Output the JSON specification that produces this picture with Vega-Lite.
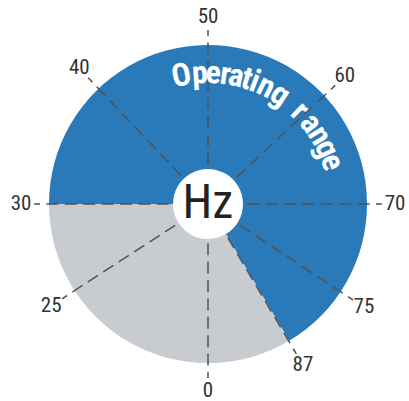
{
  "$schema": "https://vega.github.io/schema/vega-lite/v6.json",
  "width": 402,
  "height": 394,
  "autosize": {"type": "none"},
  "padding": {"left": 7, "top": 7, "right": 0, "bottom": 0},
  "background": "white",
  "config": {"view": {"stroke": null}},
  "datasets": {
    "sectors": [
      {"seg": "Operating", "start": -90, "end": 149.3},
      {"seg": "Off", "start": 149.3, "end": 270}
    ],
    "ticks": [
      {"label": "0", "deg": 180},
      {"label": "25", "deg": 237},
      {"label": "30", "deg": 270},
      {"label": "40", "deg": 316.5},
      {"label": "50", "deg": 0},
      {"label": "60", "deg": 47},
      {"label": "70", "deg": 90},
      {"label": "75", "deg": 123.5},
      {"label": "87", "deg": 149.5}
    ],
    "arcText": [
      {"ch": "O", "deg": -11.7},
      {"ch": "p", "deg": -3.6},
      {"ch": "e", "deg": 2.3},
      {"ch": "r", "deg": 7.7},
      {"ch": "a", "deg": 12.5},
      {"ch": "t", "deg": 17.3},
      {"ch": "i", "deg": 20.9},
      {"ch": "n", "deg": 26.4},
      {"ch": "g", "deg": 33.4},
      {"ch": "r", "deg": 44.6},
      {"ch": "a", "deg": 51.8},
      {"ch": "n", "deg": 58.4},
      {"ch": "g", "deg": 64.9},
      {"ch": "e", "deg": 71.3}
    ],
    "unit": [{"label": "Hz"}]
  },
  "layer": [
    {
      "data": {"name": "sectors"},
      "mark": {"type": "arc", "outerRadius": 159, "innerRadius": 35},
      "encoding": {
        "theta": {"field": "start", "type": "quantitative", "stack": null, "scale": {"domain": [0, 360], "range": [0, 6.283185307179586], "nice": false, "zero": false}},
        "theta2": {"field": "end"},
        "color": {"field": "seg", "type": "nominal", "scale": {"domain": ["Operating", "Off"], "range": ["#2a7ab9", "#c8cbd0"]}, "legend": null}
      }
    },
    {
      "data": {"name": "ticks"},
      "mark": {"type": "arc", "innerRadius": 36, "outerRadius": 174, "filled": false, "color": "#4f5356", "strokeWidth": 1.5, "strokeDash": [6, 12.4]},
      "encoding": {
        "theta": {"field": "deg", "type": "quantitative", "stack": null, "scale": {"domain": [0, 360], "range": [0, 6.283185307179586], "nice": false, "zero": false}},
        "theta2": {"field": "deg"}
      }
    },
    {
      "data": {"name": "ticks"},
      "mark": {"type": "text", "radius": 187, "fontSize": 21, "font": "'Roboto Condensed', 'Liberation Sans Narrow', 'DejaVu Sans Condensed', Roboto, sans-serif", "color": "#333333", "align": "center", "baseline": "middle"},
      "encoding": {
        "theta": {"field": "deg", "type": "quantitative", "stack": null, "scale": {"domain": [0, 360], "range": [0, 6.283185307179586], "nice": false, "zero": false}},
        "text": {"field": "label"}
      }
    },
    {
      "data": {"name": "arcText"},
      "mark": {"type": "text", "radius": 131, "fontSize": 32, "fontWeight": "bold", "font": "'Roboto Condensed', 'Liberation Sans Narrow', 'DejaVu Sans Condensed', Roboto, sans-serif", "color": "white", "align": "center", "baseline": "middle"},
      "encoding": {
        "theta": {"field": "deg", "type": "quantitative", "stack": null, "scale": {"domain": [0, 360], "range": [0, 6.283185307179586], "nice": false, "zero": false}},
        "angle": {"field": "deg", "type": "quantitative", "scale": null},
        "text": {"field": "ch"}
      }
    },
    {
      "data": {"name": "unit"},
      "mark": {"type": "text", "fontSize": 48, "font": "'Roboto Condensed', 'Liberation Sans Narrow', 'DejaVu Sans Condensed', Roboto, sans-serif", "color": "#222222", "align": "center", "baseline": "middle"},
      "encoding": {
        "text": {"field": "label"}
      }
    }
  ]
}
